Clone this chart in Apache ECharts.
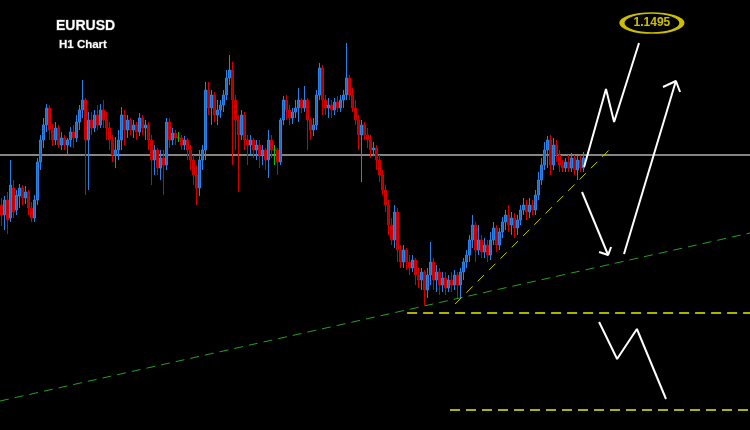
<!DOCTYPE html>
<html><head><meta charset="utf-8">
<script src="https://cdn.jsdelivr.net/npm/echarts@6/dist/echarts.min.js"></script>
<style>html,body{margin:0;padding:0;background:#000;}#c{width:750px;height:430px;}</style>
</head><body><div id="c"></div>
<script>
// ---- chart data (EURUSD H1) ----
const slots = 250; // hourly slots across the view (candles + empty future space)
const open = [1.1312,1.1302,1.1317,1.1299,1.1329,1.1307,1.1321,1.1329,1.1319,1.1325,
1.1309,1.1299,1.1317,1.1355,1.1377,1.1392,1.1409,1.1387,1.1377,1.1389,
1.1372,1.1379,1.1372,1.1377,1.1385,1.1379,1.1395,1.1407,1.1417,1.1377,
1.1397,1.1389,1.1402,1.1392,1.1407,1.1397,1.1389,1.1377,1.1362,1.1367,
1.1377,1.1402,1.1387,1.1397,1.1387,1.1392,1.1385,1.1399,1.1389,1.1392,
1.1377,1.1357,1.1367,1.1349,1.1359,1.1352,1.1395,1.1377,1.1384,1.1379,
1.1379,1.1372,1.1377,1.1367,1.1357,1.1342,1.1329,1.1357,1.1367,1.1427,
1.1409,1.1422,1.1402,1.1407,1.1412,1.1422,1.1439,1.1447,1.1417,1.1397,
1.1382,1.1402,1.1377,1.1372,1.1377,1.1367,1.1372,1.1362,1.1367,1.1357,
1.1377,1.1367,1.1367,1.1355,1.1397,1.1417,1.1407,1.1399,1.1405,1.1409,
1.1417,1.1409,1.1417,1.1397,1.1387,1.1392,1.1422,1.1449,1.1417,1.1409,
1.1412,1.1407,1.1415,1.1409,1.1417,1.1422,1.1439,1.1422,1.1409,1.1397,
1.1382,1.1392,1.1382,1.1377,1.1367,1.1369,1.1357,1.1342,1.1327,1.1312,
1.1292,1.1277,1.1305,1.1267,1.1255,1.1267,1.1255,1.1249,1.1257,1.1242,
1.1237,1.1245,1.1227,1.1242,1.1255,1.1237,1.1245,1.1232,1.1239,1.1229,
1.1237,1.1232,1.1242,1.1232,1.1245,1.1255,1.1262,1.1277,1.1292,1.1267,
1.1277,1.1265,1.1272,1.1262,1.1277,1.1289,1.1272,1.1285,1.1295,1.1302,
1.1292,1.1299,1.1289,1.1297,1.1307,1.1312,1.1305,1.1312,1.1307,1.1322,
1.1337,1.1352,1.1367,1.1377,1.1352,1.1372,1.1362,1.1352,1.1349,1.1355,
1.1349,1.1359,1.1347,1.1357,1.1349];
const close = [1.1302,1.1317,1.1297,1.1332,1.1305,1.1322,1.1329,1.1319,1.1325,1.1309,
1.1299,1.1317,1.1355,1.1377,1.1392,1.1409,1.1387,1.1377,1.1389,1.1372,
1.1379,1.1372,1.1377,1.1385,1.1379,1.1395,1.1407,1.1417,1.1377,1.1397,
1.1389,1.1402,1.1392,1.1407,1.1397,1.1389,1.1377,1.1362,1.1367,1.1377,
1.1402,1.1387,1.1397,1.1387,1.1392,1.1385,1.1399,1.1389,1.1392,1.1377,
1.1357,1.1367,1.1349,1.1359,1.1352,1.1395,1.1377,1.1384,1.1379,1.1379,
1.1372,1.1377,1.1367,1.1357,1.1342,1.1329,1.1357,1.1367,1.1427,1.1409,
1.1422,1.1402,1.1407,1.1412,1.1422,1.1439,1.1447,1.1417,1.1397,1.1382,
1.1402,1.1377,1.1372,1.1377,1.1367,1.1372,1.1362,1.1367,1.1357,1.1377,
1.1367,1.1367,1.1355,1.1397,1.1417,1.1407,1.1399,1.1405,1.1409,1.1417,
1.1409,1.1417,1.1397,1.1387,1.1392,1.1422,1.1449,1.1417,1.1409,1.1412,
1.1407,1.1415,1.1409,1.1417,1.1422,1.1439,1.1422,1.1409,1.1397,1.1382,
1.1392,1.1382,1.1377,1.1367,1.1369,1.1357,1.1342,1.1327,1.1312,1.1292,
1.1277,1.1305,1.1267,1.1255,1.1267,1.1255,1.1249,1.1257,1.1242,1.1237,
1.1245,1.1227,1.1242,1.1255,1.1237,1.1245,1.1232,1.1239,1.1229,1.1237,
1.1232,1.1242,1.1232,1.1245,1.1255,1.1262,1.1277,1.1292,1.1267,1.1277,
1.1265,1.1272,1.1262,1.1277,1.1289,1.1272,1.1285,1.1295,1.1302,1.1292,
1.1299,1.1289,1.1297,1.1307,1.1312,1.1305,1.1312,1.1307,1.1322,1.1337,
1.1352,1.1367,1.1377,1.1352,1.1372,1.1362,1.1352,1.1349,1.1355,1.1349,
1.1359,1.1347,1.1357,1.1349,1.1359];
const low = [1.1291,1.1287,1.1283,1.1295,1.1299,1.1302,1.1309,1.1312,1.1313,1.1302,
1.1295,1.1295,1.1312,1.1347,1.1369,1.1385,1.1377,1.1371,1.1372,1.1369,
1.1367,1.1367,1.1362,1.1370,1.1369,1.1375,1.1387,1.1399,1.1322,1.1327,
1.1382,1.1385,1.1387,1.1389,1.1389,1.1377,1.1367,1.1355,1.1349,1.1357,
1.1367,1.1372,1.1379,1.1382,1.1379,1.1377,1.1381,1.1382,1.1377,1.1367,
1.1332,1.1342,1.1342,1.1337,1.1322,1.1347,1.1369,1.1372,1.1372,1.1375,
1.1367,1.1367,1.1357,1.1347,1.1332,1.1312,1.1321,1.1347,1.1357,1.1402,
1.1392,1.1395,1.1392,1.1399,1.1405,1.1417,1.1432,1.1352,1.1367,1.1325,
1.1377,1.1367,1.1352,1.1362,1.1359,1.1357,1.1349,1.1352,1.1347,1.1339,
1.1359,1.1352,1.1342,1.1352,1.1392,1.1397,1.1392,1.1393,1.1399,1.1395,
1.1404,1.1405,1.1367,1.1377,1.1381,1.1387,1.1417,1.1402,1.1402,1.1399,
1.1399,1.1402,1.1405,1.1405,1.1409,1.1417,1.1417,1.1405,1.1392,1.1367,
1.1335,1.1377,1.1369,1.1359,1.1361,1.1347,1.1335,1.1322,1.1305,1.1282,
1.1272,1.1269,1.1255,1.1249,1.1249,1.1247,1.1242,1.1245,1.1232,1.1229,
1.1227,1.1212,1.1219,1.1232,1.1227,1.1225,1.1222,1.1225,1.1222,1.1225,
1.1225,1.1227,1.1219,1.1219,1.1237,1.1249,1.1255,1.1269,1.1255,1.1262,
1.1259,1.1259,1.1255,1.1257,1.1272,1.1265,1.1267,1.1279,1.1287,1.1285,
1.1282,1.1279,1.1282,1.1292,1.1302,1.1297,1.1299,1.1302,1.1302,1.1317,
1.1332,1.1347,1.1349,1.1342,1.1347,1.1355,1.1345,1.1345,1.1345,1.1345,
1.1345,1.1342,1.1337,1.1345,1.1345];
const high = [1.1319,1.1321,1.1325,1.1357,1.1337,1.1327,1.1333,1.1332,1.1331,1.1327,
1.1315,1.1322,1.1359,1.1382,1.1399,1.1413,1.1412,1.1393,1.1395,1.1392,
1.1385,1.1382,1.1379,1.1390,1.1392,1.1402,1.1412,1.1437,1.1419,1.1405,
1.1405,1.1407,1.1412,1.1413,1.1417,1.1405,1.1395,1.1382,1.1380,1.1387,
1.1410,1.1407,1.1402,1.1399,1.1397,1.1395,1.1404,1.1402,1.1397,1.1395,
1.1382,1.1372,1.1369,1.1367,1.1367,1.1399,1.1399,1.1389,1.1387,1.1385,
1.1382,1.1381,1.1379,1.1372,1.1362,1.1352,1.1367,1.1372,1.1435,1.1435,
1.1427,1.1425,1.1417,1.1417,1.1427,1.1447,1.1462,1.1455,1.1422,1.1402,
1.1407,1.1405,1.1382,1.1382,1.1379,1.1377,1.1377,1.1372,1.1369,1.1387,
1.1382,1.1372,1.1369,1.1399,1.1421,1.1422,1.1412,1.1409,1.1417,1.1429,
1.1419,1.1431,1.1419,1.1399,1.1399,1.1427,1.1454,1.1452,1.1422,1.1419,
1.1417,1.1419,1.1421,1.1422,1.1427,1.1474,1.1442,1.1429,1.1417,1.1402,
1.1397,1.1395,1.1389,1.1382,1.1375,1.1372,1.1362,1.1347,1.1332,1.1317,
1.1299,1.1312,1.1309,1.1272,1.1272,1.1269,1.1262,1.1262,1.1259,1.1249,
1.1249,1.1247,1.1249,1.1275,1.1259,1.1252,1.1249,1.1245,1.1245,1.1242,
1.1245,1.1247,1.1245,1.1249,1.1259,1.1267,1.1282,1.1302,1.1295,1.1292,
1.1282,1.1279,1.1277,1.1285,1.1295,1.1292,1.1289,1.1300,1.1307,1.1312,
1.1305,1.1304,1.1302,1.1312,1.1319,1.1317,1.1319,1.1317,1.1327,1.1345,
1.1359,1.1375,1.1381,1.1382,1.1379,1.1377,1.1367,1.1357,1.1359,1.1362,
1.1364,1.1362,1.1362,1.1362,1.1365];

// ---- analyst annotations, in (hour slot, price) ----
const resistanceLine = [[-0.5, 1.1362], [249.5, 1.1362]];
const greenTrend = [[-0.5, 1.1116], [249.5, 1.1284]];
const yellowTrend = [[151.2, 1.1213], [203.2, 1.1369]];
const supportLevel1 = [[135.2, 1.1204], [249.5, 1.1204]];
const supportLevel2 = [[149.5, 1.1107], [249.5, 1.1107]];
const zigzagUp = [[194.2, 1.1350], [201.5, 1.1428], [204.2, 1.1395], [212.5, 1.1474]];
const arrowDown = [[193.5, 1.1325], [202.2, 1.1262]];
const arrowDownHead = [[199.2, 1.1265], [202.2, 1.1262], [203.2, 1.1270]];
const arrowUp = [[207.5, 1.1263], [224.8, 1.1436]];
const arrowUpHead = [[220.5, 1.1430], [224.8, 1.1436], [226.2, 1.1425]];
const zigzagDown = [[199.2, 1.1195], [205.2, 1.1158], [211.8, 1.1188], [221.5, 1.1118]];
const targetPoint = [[216.8, 1.1494]];
const targetLabel = '1.1495';
const titleText = 'EURUSD';
const subTitleText = 'H1 Chart';

const categories = Array.from({length: slots}, (_, i) => 'H' + i);
const ohlc = open.map((o, i) => [o, close[i], low[i], high[i]]);

function annot(data, color, width, type, z) {
  return { type: 'line', xAxisIndex: 1, yAxisIndex: 0, data: data, symbol: 'none',
    silent: true, lineStyle: { color: color, width: width, type: type || 'solid' }, z: z || 5 };
}

const chart = echarts.init(document.getElementById('c'), null, { renderer: 'canvas' });
chart.setOption({
  backgroundColor: '#000000',
  animation: false,
  title: [
    { text: titleText, left: 56, top: 19, padding: 0,
      textStyle: { color: '#ffffff', fontSize: 14, fontWeight: 'bold', fontFamily: 'Liberation Sans',
        textBorderColor: '#444', textBorderWidth: 1 } },
    { text: subTitleText, left: 59, top: 39, padding: 0,
      textStyle: { color: '#ffffff', fontSize: 11.5, fontWeight: 'bold', fontFamily: 'Liberation Sans',
        textBorderColor: '#444', textBorderWidth: 1 } }
  ],
  grid: { left: 0, right: 0, top: 0, bottom: 0 },
  xAxis: [
    { type: 'category', data: categories, show: false, boundaryGap: true },
    { type: 'value', min: -0.5, max: slots - 0.5, show: false }
  ],
  yAxis: { type: 'value', min: 1.1087, max: 1.1517, show: false, splitLine: { show: false } },
  series: [
    annot(resistanceLine, '#858585', 2, 'solid', 1),
    {
      type: 'candlestick', data: ohlc, barWidth: 2, z: 3,
      itemStyle: { color: '#1a6cc8', color0: '#b00000', borderColor: '#2a82e4', borderColor0: '#d40000',
        borderColorDoji: '#00c800', borderWidth: 1 }
    },
    annot(greenTrend, '#25a025', 1, [9, 6]),
    annot(yellowTrend, '#c8c800', 1, [9, 7]),
    annot(supportLevel1, '#b0b000', 2, [10, 6]),
    annot(supportLevel2, '#b0b000', 2, [10, 6]),
    annot(zigzagUp, '#ffffff', 2),
    annot(arrowDown, '#ffffff', 2),
    annot(arrowDownHead, '#ffffff', 2),
    annot(arrowUp, '#ffffff', 2),
    annot(arrowUpHead, '#ffffff', 2),
    annot(zigzagDown, '#ffffff', 2),
    {
      type: 'scatter', xAxisIndex: 1, yAxisIndex: 0, data: targetPoint, symbol: 'circle',
      symbolSize: [60, 20], silent: true, z: 6,
      itemStyle: { color: 'rgba(0,0,0,0)', borderColor: '#ffee00', borderWidth: 3 },
      label: { show: true, position: 'inside', formatter: targetLabel, color: '#ffee00',
        fontSize: 12, fontWeight: 'bold', fontFamily: 'Liberation Sans' }
    }
  ]
});
</script></body></html>
